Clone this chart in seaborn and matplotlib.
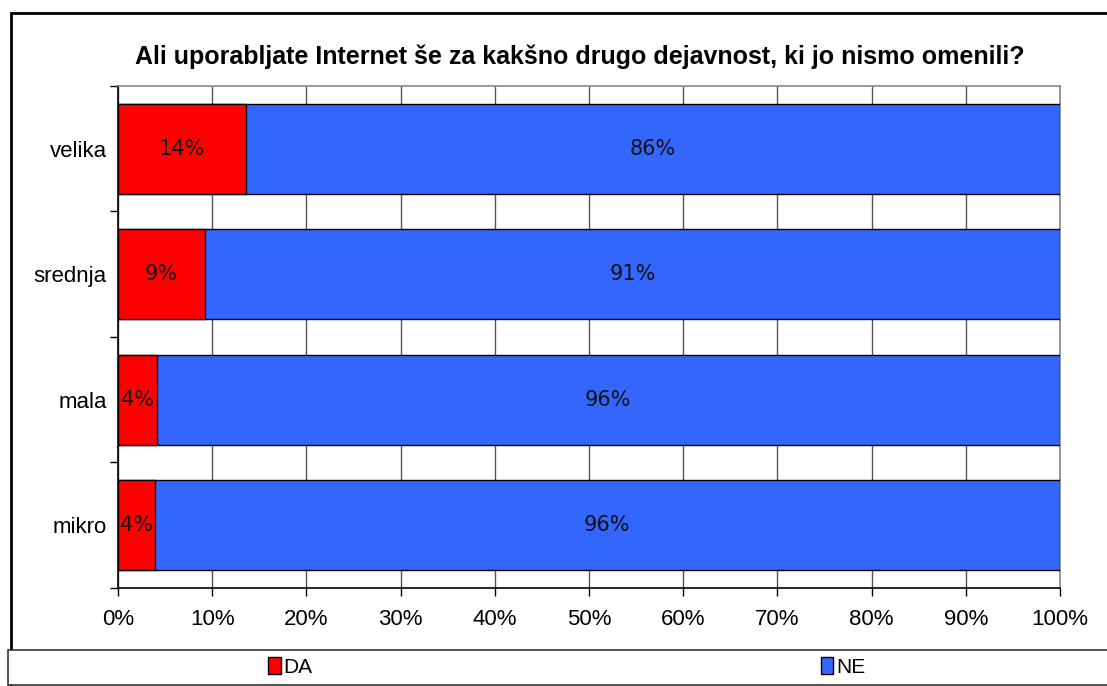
import matplotlib
matplotlib.use("Agg")
import matplotlib.pyplot as plt
from matplotlib.patches import Rectangle, Patch
from matplotlib.ticker import PercentFormatter, FixedLocator
import pandas as pd
import seaborn as sns

# data (share of answers in %)
categories = ["velika", "srednja", "mala", "mikro"]
da = [13.6, 9.2, 4.1, 3.9]
ne = [100 - v for v in da]
title = "Ali uporabljate Internet še za kakšno drugo dejavnost, ki jo nismo omenili?"

df = pd.DataFrame({"velikost": categories, "DA": da, "NE": ne})
df["skupaj"] = df["DA"] + df["NE"]

red = "#FF0000"
blue = "#3366FF"

sns.set_style("white")
plt.rcParams["font.family"] = ["Liberation Sans", "DejaVu Sans"]
plt.rcParams["text.color"] = "black"
plt.rcParams["xtick.color"] = "black"
plt.rcParams["ytick.color"] = "black"

W, H = 1107, 686
fig = plt.figure(figsize=(W / 100, H / 100), dpi=100)
ax = fig.add_axes([118 / W, 1 - 588 / H, (1060 - 118) / W, (588 - 86) / H])

# stacked bars: full bar in blue, DA part drawn on top in red
sns.barplot(data=df, x="skupaj", y="velikost", order=categories, color=blue,
            saturation=1, width=0.72, edgecolor="black", linewidth=1, ax=ax, zorder=3)
sns.barplot(data=df, x="DA", y="velikost", order=categories, color=red,
            saturation=1, width=0.72, edgecolor="black", linewidth=1, ax=ax, zorder=4)

# value labels centered in each segment
for i, row in df.iterrows():
    ax.text(row["DA"] / 2, i, f"{row['DA']:.0f}%", ha="center", va="center",
            fontsize=15, fontfamily=["DejaVu Sans"], color="#111111", zorder=5)
    ax.text(row["DA"] + row["NE"] / 2, i, f"{row['NE']:.0f}%", ha="center", va="center",
            fontsize=15, fontfamily=["DejaVu Sans"], color="#111111", zorder=5)

ax.set_xlim(0, 100)
ax.set_ylim(len(categories) - 0.5, -0.5)
ax.set_xticks(range(0, 101, 10))
ax.xaxis.set_major_formatter(PercentFormatter(100, decimals=0))
ax.xaxis.grid(True, color="#555555", linewidth=1, zorder=0)
ax.set_axisbelow(True)

# y ticks at category borders, labels at centers
ax.yaxis.set_major_locator(FixedLocator([i - 0.5 for i in range(len(categories) + 1)]))
ax.yaxis.set_major_formatter(plt.NullFormatter())
ax.yaxis.set_minor_locator(FixedLocator(range(len(categories))))
ax.set_yticklabels(categories, minor=True)
ax.tick_params(axis="y", which="major", length=6, width=1, color="black", direction="out", left=True)
ax.tick_params(axis="y", which="minor", length=0, pad=8, labelsize=16)
ax.tick_params(axis="x", length=6, width=1, color="black", direction="out", bottom=True,
               pad=9, labelsize=16)
ax.set_xlabel("")
ax.set_ylabel("")

for side in ["left", "bottom"]:
    ax.spines[side].set_color("black")
    ax.spines[side].set_linewidth(1.2)
for side in ["top", "right"]:
    ax.spines[side].set_color("#888888")
    ax.spines[side].set_linewidth(1.2)

fig.text(580 / W, 1 - 57 / H, title, ha="center", va="center", fontsize=18,
         fontweight="bold", color="black")

# outer frame and legend box
fig.patches.append(Rectangle((11 / W, -0.1), 1.2, 1 - 13 / H + 0.1, transform=fig.transFigure,
                             fill=False, edgecolor="black", linewidth=2, zorder=0))
fig.patches.append(Rectangle((8 / W, 1 - 685 / H), 1.2, 35 / H, transform=fig.transFigure,
                             facecolor="white", edgecolor="#333333", linewidth=1.2, zorder=1))

handles = [Patch(facecolor=red, edgecolor="black", label="DA"),
           Patch(facecolor=blue, edgecolor="black", label="NE")]
fig.legend(handles=handles, loc="center left", bbox_to_anchor=(268 / W, 1 - 667 / H),
           ncol=2, frameon=False, fontsize=15, handlelength=0.6, handleheight=0.85,
           handletextpad=0.15, columnspacing=24.4, borderpad=0, borderaxespad=0)

fig.savefig("out.png", dpi=100)
